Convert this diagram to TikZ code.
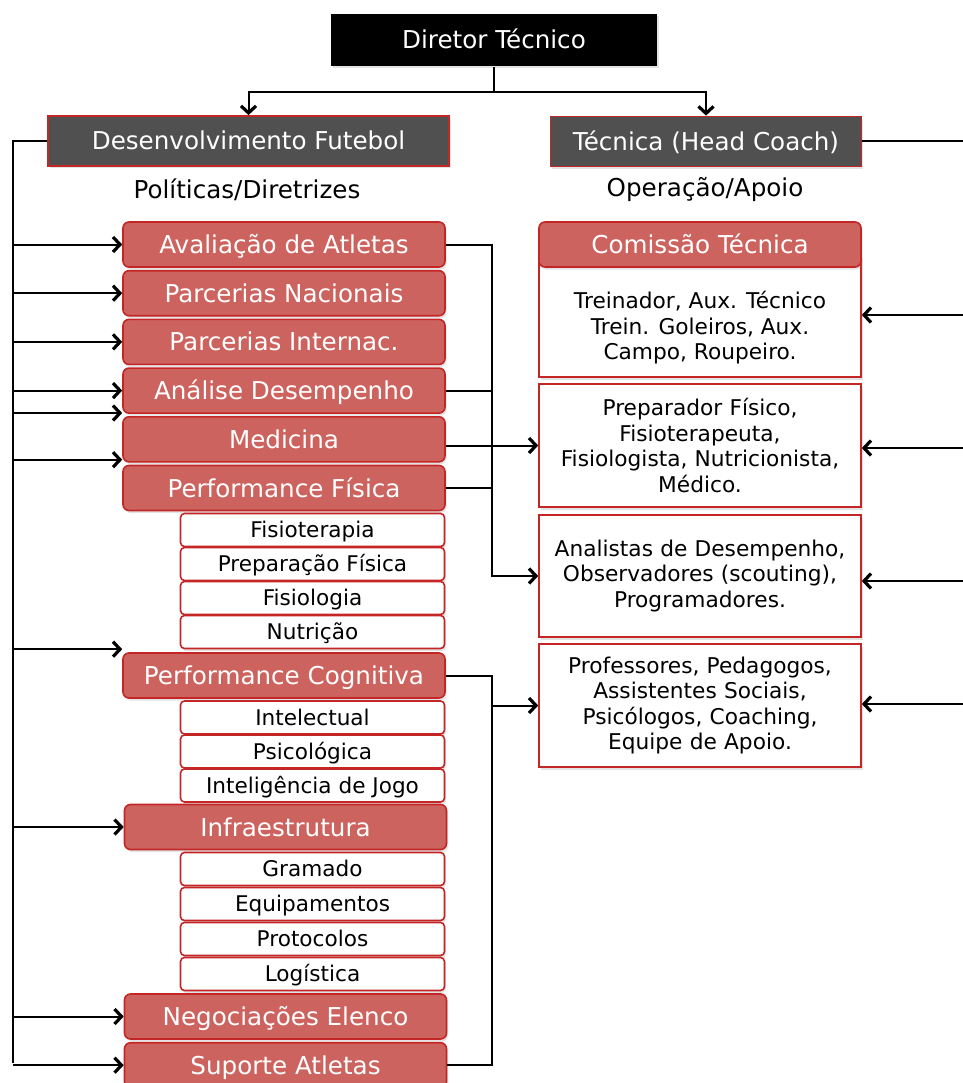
\documentclass[tikz,border=0pt]{standalone}
\usepackage{fontspec}
\setmainfont{DejaVu Sans}
\usetikzlibrary{arrows.meta,shadows}
\definecolor{hdred}{RGB}{205,99,95}
\definecolor{bdred}{RGB}{196,38,38}
\definecolor{dkgray}{RGB}{80,80,80}
\newcommand{\bigfont}{\fontsize{24.6}{29}\selectfont}
\newcommand{\midfont}{\fontsize{21.7}{25.5}\selectfont}
\newcommand{\smallfont}{\fontsize{21.6}{24}\selectfont}
\begin{document}
\begin{tikzpicture}[x=1pt, y=1pt, node distance=48.7pt, line width=2pt,
  >={Straight Barb[length=7pt,width=15pt,line width=3.2pt]}]
\tikzstyle{dshadow} = [drop shadow={opacity=.22, shadow xshift=1.5pt, shadow yshift=-2.5pt}]
\tikzstyle{boss} = [rectangle, fill=black, text=white, minimum width=326pt, minimum height=52pt, text height=18pt, text depth=0pt, font=\bigfont, dshadow]
\tikzstyle{dept} = [rectangle, fill=dkgray, draw=bdred, line width=1.8pt, text=white, minimum height=50pt, text height=18pt, text depth=0pt, font=\bigfont, dshadow]
\tikzstyle{area} = [rectangle, rounded corners=6pt, fill=hdred, draw=bdred, line width=1.6pt, text=white, minimum width=322pt, minimum height=45pt, text height=18pt, text depth=0pt, font=\bigfont, dshadow]
\tikzstyle{subarea} = [rectangle, rounded corners=4pt, fill=white, draw=bdred, line width=1.6pt, minimum width=264pt, minimum height=33pt, text height=15.8pt, text depth=0pt, font=\smallfont, node distance=34pt, dshadow]
\tikzstyle{staffbox} = [rectangle, fill=white, draw=bdred, line width=1.6pt, minimum width=322pt, minimum height=123pt, text width=314pt, align=center, font=\midfont, dshadow]
\useasboundingbox (0,0) rectangle (962,-1083);

\node (DT) [boss] at (494,-40) {Diretor Técnico};
\node (DF) [dept, minimum width=401pt] at (248.5,-141) {Desenvolvimento Futebol};
\node (HC) [dept, minimum width=311pt] at (706,-141.5) {Técnica (Head Coach)};
\node (POL) [font=\bigfont] at (247,-190) {Políticas/Diretrizes};
\node (OPA) [font=\bigfont] at (705,-190) {Operação/Apoio};

\node (AVA) [area] at (284,-244.5) {Avaliação de Atletas};
\node (PN) [area, below of=AVA] {Parcerias Nacionais};
\node (PI) [area, below of=PN] {Parcerias Internac.};
\node (AD) [area, below of=PI] {Análise Desempenho};
\node (MED) [area, below of=AD] {Medicina};
\node (PF) [area, below of=MED] {Performance Física};
\node (FIS) [subarea] at (312.5,-530) {Fisioterapia};
\node (PRF) [subarea, below of=FIS] {Preparação Física};
\node (FSL) [subarea, below of=PRF] {Fisiologia};
\node (NUT) [subarea, below of=FSL] {Nutrição};
\node (PC) [area] at (284,-675.5) {Performance Cognitiva};
\node (INT) [subarea] at (312.5,-717.5) {Intelectual};
\node (PSI) [subarea, below of=INT] {Psicológica};
\node (IJ) [subarea, below of=PSI] {Inteligência de Jogo};
\node (INF) [area] at (285.5,-827) {Infraestrutura};
\node (GRA) [subarea] at (312.5,-869) {Gramado};
\node (EQU) [subarea, node distance=35pt, below of=GRA] {Equipamentos};
\node (PRO) [subarea, node distance=35pt, below of=EQU] {Protocolos};
\node (LOG) [subarea, node distance=35pt, below of=PRO] {Logística};
\node (NEG) [area] at (285.5,-1016.5) {Negociações Elenco};
\node (SUP) [area, below of=NEG] {Suporte Atletas};

\node (ST1) [staffbox, minimum height=122pt] at (700,-316) {};
\node (CT) [area] at (700,-244.5) {Comissão Técnica};
\node (ST1T) [font=\midfont, align=center] at (700,-328) {Treinador, Aux. Técnico\\Trein. Goleiros, Aux.\\Campo, Roupeiro.};
\node (ST2) [staffbox] at (700,-445.5) {Preparador Físico,\\Fisioterapeuta,\\Fisiologista, Nutricionista,\\Médico.};
\node (ST3) [staffbox, minimum height=122pt] at (700,-576) {Analistas de Desempenho,\\Observadores (scouting),\\Programadores.};
\node (ST4) [staffbox] at (700,-705.5) {Professores, Pedagogos,\\Assistentes Sociais,\\Psicólogos, Coaching,\\Equipe de Apoio.};

\coordinate (LB) at (13,-1063);
\coordinate (MB) at (492,0);
\coordinate (R1) at (966,-315);
\coordinate (R2) at (966,-448);
\coordinate (R3) at (966,-581);
\coordinate (R4) at (966,-704);
\coordinate (MEDin) at ([yshift=3pt]MED.north west);
\coordinate (PFin) at ([yshift=5pt]PF.north west);
\coordinate (PCin) at ([yshift=3pt]PC.north west);

\draw [->] (DT.south) -- ++(0,-25) -| (DF.north);
\draw [->] (DT.south) -- ++(0,-25) -| (HC.north);
\draw (HC.east) -- (HC.east -| R1);
\draw [->] (R1) -- (R1 -| ST1.east);
\draw [->] (R2) -- (R2 -| ST2.east);
\draw [->] (R3) -- (R3 -| ST3.east);
\draw [->] (R4) -- (R4 -| ST4.east);

\draw (DF.west) -| (LB);
\draw [->] (AVA.west -| LB) -- (AVA.west);
\draw [->] (PN.west -| LB) -- (PN.west);
\draw [->] (PI.west -| LB) -- (PI.west);
\draw [->] (AD.west -| LB) -- (AD.west);
\draw [->] (MEDin -| LB) -- (MEDin);
\draw [->] (PFin -| LB) -- (PFin);
\draw [->] (PCin -| LB) -- (PCin);
\draw [->] (INF.west -| LB) -- (INF.west);
\draw [->] (NEG.west -| LB) -- (NEG.west);
\draw [->] (SUP.west -| LB) -- (SUP.west);

\draw [->] (AVA.east) -| (MB |- ST3.west) -- (ST3.west);
\draw (AD.east) -- (AD.east -| MB);
\draw (PF.east) -- (PF.east -| MB);
\draw [->] (MED.east |- ST2.west) -- (ST2.west);
\draw (PC.east) -| (MB |- SUP.east) -- (SUP.east);
\draw [->] (MB |- ST4.west) -- (ST4.west);
\end{tikzpicture}
\end{document}
